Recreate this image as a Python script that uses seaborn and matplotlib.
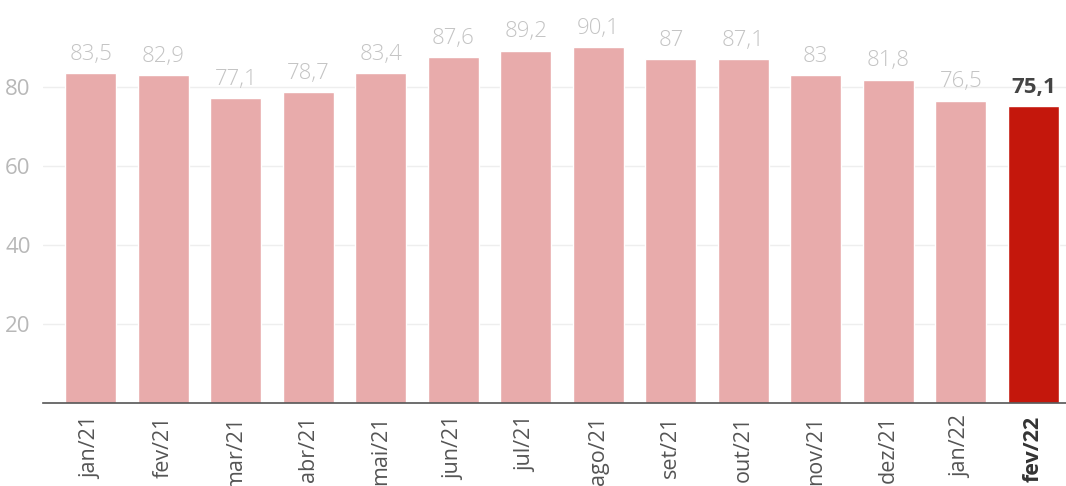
import matplotlib
matplotlib.use("Agg")
import matplotlib.pyplot as plt
import seaborn as sns
import pandas as pd

months = ["jan/21", "fev/21", "mar/21", "abr/21", "mai/21", "jun/21", "jul/21",
          "ago/21", "set/21", "out/21", "nov/21", "dez/21", "jan/22", "fev/22"]
values = [83.5, 82.9, 77.1, 78.7, 83.4, 87.6, 89.2, 90.1, 87.0, 87.1, 83.0, 81.8, 76.5, 75.1]
yticks = [20, 40, 60, 80]

light = "#e8abab"
dark = "#c4170c"
colors = [light] * (len(months) - 1) + [dark]

sns.set_theme(style="white")
plt.rcParams['font.family'] = ['Open Sans', 'DejaVu Sans']

df = pd.DataFrame({"mes": months, "valor": values})

fig = plt.figure(figsize=(10.66, 4.86), dpi=100)
ax = fig.add_axes([43 / 1066, 83 / 486, 1 - 43 / 1066, 403 / 486])

sns.barplot(data=df, x="mes", y="valor", hue="mes", palette=colors, legend=False,
            width=0.7, saturation=1, ax=ax, zorder=2)

ax.set_ylim(0, 102)
ax.set_xlim(-0.66, 13.45)
ax.set_yticks(yticks)
ax.yaxis.grid(True, color="#eeeeee", linewidth=1, zorder=0)
ax.set_axisbelow(True)
for s in ["top", "right", "left"]:
    ax.spines[s].set_visible(False)
ax.spines["bottom"].set_color("#555555")
ax.spines["bottom"].set_linewidth(1.2)
ax.set_xlabel("")
ax.set_ylabel("")
ax.tick_params(axis="y", length=0, labelsize=16, labelcolor="#b8b8b8", pad=9)
ax.tick_params(axis="x", length=0, labelsize=15.5, labelcolor="#555555", pad=9)
plt.setp(ax.get_xticklabels(), rotation=90, ha="center", va="top")
xl = ax.get_xticklabels()
xl[-1].set_fontweight("bold")
xl[-1].set_color("#333333")

for i, v in enumerate(values):
    txt = f"{v:g}".replace(".", ",")
    last = i == len(values) - 1
    ax.annotate(txt, (i, v), xytext=(0, 6), textcoords="offset points",
                ha="center", va="bottom", fontsize=16,
                color="#444444" if last else "#c4c4c4",
                fontweight="bold" if last else "light")

fig.savefig("out.png", dpi=100)
